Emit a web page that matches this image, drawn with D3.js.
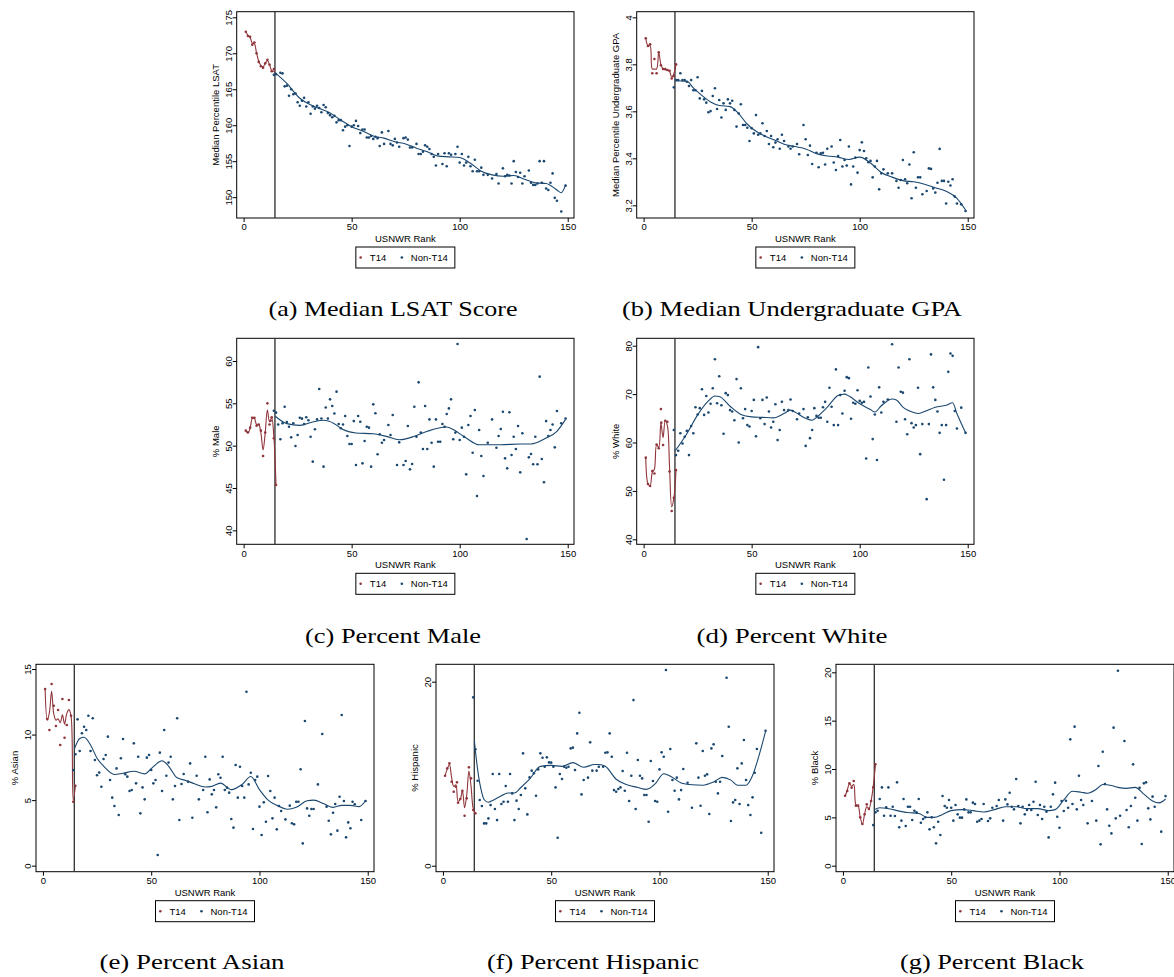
<!DOCTYPE html>
<html><head><meta charset="utf-8">
<script src="https://cdn.jsdelivr.net/npm/d3@7/dist/d3.min.js"></script>
<style>body{margin:0;background:#fff;overflow:hidden}svg{display:block}</style>
</head><body>
<svg id="chart" width="1174" height="977"></svg>
<script>
// ---------- shared ----------
const rankTicks = [0, 50, 100, 150];
const legendNames = ["T14", "Non-T14"];
const xTitle = "USNWR Rank";

// ---------- (a) LSAT ----------
const lsatTicks = [150, 155, 160, 165, 170, 175];
const lsatTickLabels = ["150", "155", "160", "165", "170", "175"];
const lsatT14 = [[1,173.0],[2,172.4],[3,172.3],[4,171.2],[5,171.5],[6,170.0],[7,168.8],[8,168.2],[9,168.0],[10,168.6],[11,169.1],[12,168.4],[13,167.5],[14,167.8]];
const lsatT14Fit = [[1,173.0],[2,172.5],[3,172.2],[4,171.4],[5,171.3],[6,170.0],[7,168.9],[8,168.3],[9,168.1],[10,168.6],[11,169.0],[12,168.4],[13,167.6],[14,167.5],[14.5,167.3]];
const lsatNon = [[14,167.0],[15,167.1],[17,167.3],[18,167.2],[19,165.4],[20,165.5],[21,164.1],[22,165.0],[23,164.3],[24,164.4],[25,163.2],[26,162.7],[27,163.4],[28,163.8],[29,162.6],[30,163.2],[31,161.6],[32,162.6],[33,162.3],[34,162.7],[35,162.4],[36,161.8],[37,162.8],[38,162.5],[39,161.7],[40,161.4],[41,161.1],[42,161.3],[43,160.4],[44,160.7],[45,160.7],[46,159.3],[47,159.8],[48,160.0],[49,157.1],[50,159.8],[51,160.0],[52,160.6],[53,159.9],[54,158.9],[55,159.4],[56,159.4],[57,158.3],[58,158.3],[59,158.5],[60,158.1],[61,158.4],[62,158.2],[63,157.1],[64,159.0],[65,157.4],[67,159.2],[68,157.4],[69,157.2],[70,158.1],[71,157.6],[72,157.0],[74,158.2],[75,158.3],[76,158.0],[77,156.9],[78,156.9],[80,157.4],[81,156.0],[82,156.0],[83,156.3],[84,157.2],[85,157.0],[86,156.7],[87,156.0],[88,155.6],[89,154.4],[90,156.0],[92,154.6],[93,156.1],[94,154.3],[95,156.1],[96,155.9],[98,156.0],[99,157.0],[100,154.8],[101,156.0],[102,154.4],[103,154.8],[104,155.6],[105,154.3],[106,153.6],[107,155.2],[108,153.6],[109,153.6],[110,154.1],[111,153.1],[113,153.1],[115,152.6],[117,153.2],[118,151.9],[120,154.0],[121,152.9],[122,153.1],[123,153.0],[124,151.9],[125,155.0],[126,153.5],[127,152.8],[128,153.4],[129,151.9],[130,152.9],[132,153.7],[133,152.0],[134,151.7],[135,151.7],[136,151.9],[137,155.0],[138,152.0],[139,155.0],[140,151.2],[141,151.0],[142,152.0],[143,153.3],[144,149.9],[145,149.5],[147,148.0],[149,151.6]];
const lsatNonFit = [[14.5,167.3],[20,165.8],[26,163.75],[32,162.7],[40,161.7],[45,160.7],[50,159.8],[55,159.2],[60,158.5],[65,158.2],[70,157.7],[75,157.4],[80,156.8],[85,156.3],[90,155.7],[95,155.6],[100,155.5],[105,154.7],[110,153.6],[115,153.1],[120,152.9],[125,153.0],[130,152.5],[135,152.0],[140,151.9],[145,151.0],[147,150.6],[149,151.7]];

// ---------- (b) GPA ----------
const gpaTicks = [3.2, 3.4, 3.6, 3.8, 4.0];
const gpaTickLabels = ["3.2", "3.4", "3.6", "3.8", "4"];
const gpaT14 = [[1,3.911],[2,3.878],[3,3.885],[4,3.762],[5,3.823],[6,3.762],[7,3.851],[8,3.796],[9,3.78],[10,3.78],[11,3.776],[12,3.773],[13,3.74],[14,3.75],[15,3.80]];
const gpaT14Fit = [[1,3.91],[2,3.88],[3,3.88],[4,3.78],[5,3.78],[6,3.78],[7,3.85],[8,3.80],[9,3.78],[10,3.777],[11,3.775],[12,3.77],[13,3.745],[14,3.76],[15,3.80]];
const gpaNon = [[14,3.702],[15,3.733],[16,3.733],[17,3.762],[18,3.733],[19,3.733],[20,3.726],[21,3.708],[22,3.733],[23,3.69],[24,3.69],[25,3.745],[26,3.655],[27,3.687],[28,3.651],[29,3.637],[30,3.596],[31,3.601],[32,3.665],[33,3.698],[34,3.61],[35,3.648],[36,3.574],[37,3.634],[38,3.606],[39,3.651],[40,3.634],[41,3.645],[42,3.606],[43,3.535],[44,3.591],[45,3.63],[46,3.542],[47,3.542],[48,3.53],[49,3.474],[50,3.528],[51,3.506],[52,3.584],[53,3.5],[54,3.506],[55,3.549],[56,3.495],[57,3.516],[58,3.461],[59,3.495],[60,3.447],[61,3.467],[62,3.481],[63,3.441],[64,3.5],[65,3.474],[67,3.45],[68,3.441],[69,3.45],[71,3.461],[72,3.417],[74,3.542],[75,3.481],[76,3.414],[77,3.454],[78,3.376],[80,3.424],[81,3.362],[82,3.421],[83,3.424],[84,3.374],[85,3.441],[87,3.45],[88,3.382],[89,3.35],[90,3.41],[91,3.478],[92,3.365],[93,3.393],[94,3.369],[95,3.45],[96,3.289],[97,3.365],[98,3.403],[99,3.339],[100,3.435],[101,3.468],[102,3.431],[103,3.4],[104,3.383],[105,3.389],[106,3.319],[107,3.365],[108,3.389],[109,3.268],[110,3.336],[111,3.353],[113,3.336],[115,3.336],[117,3.304],[118,3.275],[119,3.308],[120,3.393],[121,3.311],[122,3.294],[123,3.374],[124,3.23],[125,3.426],[126,3.275],[127,3.319],[128,3.319],[129,3.247],[131,3.261],[132,3.357],[133,3.355],[134,3.272],[135,3.254],[136,3.296],[137,3.44],[138,3.304],[139,3.304],[140,3.208],[141,3.3],[142,3.284],[143,3.311],[144,3.237],[145,3.208],[147,3.204],[149,3.176]];
const gpaNonFit = [[14.5,3.73],[20,3.728],[23,3.70],[26,3.675],[31,3.64],[35,3.625],[40,3.62],[44,3.59],[48,3.545],[52,3.515],[56,3.495],[60,3.48],[65,3.46],[70,3.45],[75,3.44],[80,3.42],[85,3.41],[90,3.405],[95,3.395],[100,3.405],[105,3.38],[110,3.34],[115,3.32],[120,3.305],[125,3.30],[130,3.29],[135,3.275],[140,3.26],[145,3.23],[149,3.18]];

// ---------- (c) Male ----------
const maleTicks = [40, 45, 50, 55, 60];
const maleTickLabels = ["40", "45", "50", "55", "60"];
const maleT14 = [[1,51.77],[2,51.57],[3,52.13],[4,53.3],[5,53.3],[6,52.36],[7,52.5],[8,51.77],[9,48.78],[10,51.54],[11,55.0],[12,52.5],[12.5,52.95],[13,53.35],[14,50.87],[15,45.35]];
const maleT14Fit = [[1,51.7],[2,51.5],[3,52.0],[4,53.2],[5,53.2],[6,52.5],[7,52.5],[8,51.5],[9,49.5],[10,51.5],[11,54.2],[12,52.8],[13,53.3],[14,51.0],[15,45.3]];
const maleNon = [[14,54.13],[15,53.9],[16,52.5],[17,50.75],[18,52.64],[19,54.6],[20,52.8],[21,52.24],[22,50.98],[23,52.64],[24,49.96],[25,51.26],[26,53.3],[27,53.19],[28,52.56],[29,53.35],[30,53.0],[31,51.06],[32,48.11],[33,51.93],[34,53.1],[35,56.7],[36,53.2],[37,47.52],[38,54.5],[39,53.2],[40,55.47],[41,54.69],[42,53.8],[43,56.38],[44,52.56],[45,52.05],[46,52.5],[47,53.5],[48,51.14],[49,50.2],[50,50.2],[51,52.9],[52,47.72],[53,53.5],[54,52.83],[55,47.91],[56,50.55],[57,52.24],[58,52.13],[59,47.52],[60,54.88],[61,53.82],[62,48.98],[63,51.34],[64,50.35],[65,50.67],[67,52.44],[68,51.26],[69,53.62],[71,47.72],[72,50.39],[74,47.72],[75,48.19],[76,52.32],[77,47.2],[78,47.83],[79,54.6],[80,51.06],[81,57.48],[82,51.54],[83,49.6],[84,54.69],[85,49.6],[86,53.1],[87,50.35],[88,47.52],[89,53.1],[90,50.47],[91,50.47],[92,52.56],[93,52.24],[94,53.74],[95,54.4],[96,55.47],[97,50.75],[98,51.54],[99,62.0],[100,50.67],[101,52.13],[102,51.06],[103,46.61],[104,52.44],[105,53.5],[106,49.17],[107,54.21],[108,44.06],[109,51.85],[110,48.78],[111,46.42],[113,50.35],[115,53.1],[117,49.76],[118,51.14],[119,51.97],[120,54.0],[121,48.5],[122,47.32],[123,53.94],[124,48.9],[125,51.06],[126,49.6],[127,52.32],[128,46.85],[129,51.46],[131,38.98],[132,48.62],[133,49.02],[134,47.8],[135,51.06],[136,47.8],[137,58.15],[138,48.43],[139,45.67],[140,52.9],[141,51.14],[142,51.85],[143,52.5],[144,49.8],[145,54.1],[147,52.64],[149,53.2]];
const maleNonFit = [[14.5,53.5],[20,52.6],[26,52.4],[32,52.8],[37,53.0],[42,52.6],[46,51.9],[52,51.5],[60,51.4],[66,51.1],[72,50.7],[79,51.1],[85,51.7],[94,52.2],[97,51.9],[103,50.9],[109,50.1],[119,50.1],[128,50.2],[133,50.2],[140,50.9],[145,51.7],[149,53.1]];

// ---------- (d) White ----------
const whiteTicks = [40, 50, 60, 70, 80];
const whiteTickLabels = ["40", "50", "60", "70", "80"];
const whiteT14 = [[1,56.87],[2,51.43],[3,51.0],[4,54.1],[5,53.6],[6,59.6],[7,58.8],[8,66.9],[8.2,64.1],[9,59.5],[10,64.5],[11,64.3],[12,54.0],[13,45.85],[14,48.6],[15,54.3]];
const whiteT14Fit = [[1,56.8],[2,51.5],[3,51.0],[4,53.8],[5,54.5],[6,59.5],[7,59.0],[8,64.0],[9,61.0],[10,64.5],[11,63.5],[12,55.0],[13,46.7],[14,48.5],[15,54.3]];
const whiteNon = [[14,62.6],[15,57.4],[16,58.3],[17,61.9],[18,59.8],[19,61.2],[20,62.4],[21,57.4],[22,63.4],[23,61.9],[24,67.3],[25,65.8],[26,67.1],[27,71.0],[28,65.7],[29,69.6],[30,66.2],[31,68.0],[32,71.2],[33,77.2],[34,68.1],[35,73.7],[36,67.7],[37,61.8],[38,70.2],[39,69.8],[40,66.7],[41,66.4],[42,64.6],[43,73.1],[44,60.0],[45,71.2],[46,65.0],[47,66.9],[48,63.6],[49,63.3],[50,66.5],[51,68.8],[52,61.3],[53,79.7],[54,65.0],[55,68.8],[56,63.8],[57,69.3],[58,66.4],[59,63.1],[60,64.3],[61,67.9],[62,60.5],[63,62.6],[64,68.4],[65,66.7],[67,66.7],[68,68.9],[69,66.5],[71,64.8],[72,66.0],[74,66.9],[75,59.3],[76,65.2],[77,60.9],[78,62.6],[79,67.1],[80,65.5],[81,65.1],[82,65.1],[83,67.3],[84,68.4],[85,64.3],[86,71.3],[87,67.4],[88,63.6],[89,75.1],[90,63.6],[91,69.8],[92,66.0],[93,70.7],[94,73.5],[95,73.3],[96,64.9],[97,68.2],[98,68.0],[99,70.8],[100,68.6],[101,68.2],[102,68.4],[103,56.7],[104,75.5],[105,69.5],[106,60.7],[107,65.8],[108,56.4],[109,71.4],[110,66.2],[111,68.4],[113,68.9],[115,80.3],[117,64.3],[118,75.5],[119,70.5],[120,70.3],[121,64.8],[122,61.7],[123,77.2],[124,64.0],[125,63.1],[126,63.6],[127,71.3],[128,57.6],[129,63.8],[131,48.3],[132,63.8],[133,78.2],[134,71.4],[135,68.8],[136,66.4],[137,62.0],[138,63.6],[139,52.3],[140,63.6],[141,74.6],[142,78.4],[143,77.9],[144,66.5],[145,62.9],[147,67.2],[149,62.0]];
const whiteNonFit = [[14.5,58.2],[20,61.8],[25,65.7],[30,68.6],[33,69.6],[35,69.5],[40,67.5],[45,65.8],[50,65.3],[55,65.2],[60,65.1],[65,66.0],[68,66.7],[70,66.3],[75,65.0],[78,64.6],[80,65.2],[85,67.3],[90,69.7],[93,70.0],[95,69.6],[100,68.0],[105,66.8],[107,66.3],[110,67.6],[115,69.0],[117,68.8],[120,67.3],[125,66.2],[127,66.0],[130,66.4],[135,67.3],[140,67.7],[143,68.2],[145,66.0],[149,62.0]];

// ---------- (e) Asian ----------
const asianTicks = [0, 5, 10, 15];
const asianTickLabels = ["0", "5", "10", "15"];
const asianT14 = [[1,13.47],[2,11.19],[3,10.35],[4,13.86],[5,12.2],[6,10.65],[7,11.87],[8,9.2],[9,12.71],[10,9.76],[11,10.73],[12,12.64],[13,11.44],[14,4.88],[15,6.1]];
const asianT14Fit = [[1,13.5],[2,11.1],[3,11.7],[4,13.3],[5,11.6],[6,11.1],[7,11.2],[8,10.9],[9,11.5],[10,10.8],[11,11.6],[12,11.9],[13,11.4],[14,5.0],[15,6.1]];
const asianNon = [[14,7.3],[15,8.5],[16,11.16],[17,8.75],[18,10.1],[19,10.6],[20,10.35],[21,11.44],[22,8.75],[23,11.24],[24,8.06],[25,6.9],[26,7.1],[27,6.02],[28,8.14],[29,8.44],[30,9.84],[31,6.53],[32,5.19],[33,4.55],[34,7.42],[35,3.86],[36,8.19],[37,9.66],[38,6.97],[39,6.79],[40,5.69],[41,5.77],[42,9.33],[43,6.28],[44,8.31],[45,3.99],[46,5.97],[47,5.06],[48,8.24],[49,8.44],[50,7.3],[51,6.28],[52,6.53],[53,0.81],[54,8.62],[55,5.69],[56,10.35],[57,6.86],[58,7.86],[59,8.31],[60,5.06],[61,6.08],[62,11.24],[63,3.48],[64,6.23],[65,6.99],[67,6.41],[68,7.8],[69,3.66],[71,6.86],[72,5.06],[74,5.77],[75,8.31],[76,4.07],[77,6.58],[78,5.44],[79,5.77],[80,4.45],[81,6.97],[82,6.71],[83,8.31],[84,5.77],[85,5.95],[86,5.57],[87,3.56],[88,2.9],[89,7.68],[90,5.19],[91,7.55],[92,6.08],[93,5.19],[94,13.27],[95,6.2],[96,7.09],[97,2.8],[98,6.53],[99,6.79],[100,4.5],[101,2.34],[102,4.83],[103,3.35],[104,6.84],[105,5.69],[106,3.61],[107,5.19],[108,2.77],[109,4.55],[110,4.17],[112,3.53],[114,4.58],[115,3.23],[116,3.15],[117,4.88],[118,4.88],[119,7.35],[120,1.7],[121,11.03],[122,4.37],[123,3.81],[124,4.32],[125,4.32],[127,6.2],[129,10.04],[131,4.5],[132,3.43],[133,2.39],[134,4.04],[135,4.7],[136,2.67],[137,5.26],[138,11.49],[139,4.93],[140,2.16],[141,3.3],[142,2.85],[143,4.88],[144,4.68],[147,3.48],[149,4.93]];
const asianNonFit = [[14.5,8.9],[17,9.7],[19,9.8],[22,9.2],[25,8.2],[28,7.6],[33,6.95],[37,7.05],[42,7.2],[47,7.0],[50,7.4],[55,8.0],[58,7.6],[62,6.7],[66,6.5],[70,6.25],[75,6.0],[78,6.05],[82,6.3],[87,5.8],[92,6.2],[96,6.8],[100,5.8],[104,5.0],[108,4.6],[113,4.3],[117,4.45],[122,4.95],[125,5.0],[130,4.7],[134,4.45],[138,4.6],[142,4.6],[146,4.5],[149,4.95]];

// ---------- (f) Hispanic ----------
const hispTicks = [0, 20];
const hispTickLabels = ["0", "20"];
const hispT14 = [[1,9.78],[2,10.58],[3,11.12],[4,9.13],[5,8.04],[6,8.59],[6.5,9.06],[7,6.85],[8,7.25],[9,8.15],[10,5.43],[11,7.32],[12,10.69],[13,9.49],[14,6.05],[15,5.69]];
const hispT14Fit = [[1,9.8],[2,10.5],[3,11.0],[4,9.6],[5,8.6],[6,8.8],[7,7.0],[8,7.2],[9,8.2],[10,6.3],[11,7.7],[12,10.3],[13,8.6],[14,6.2],[15,5.7]];
const hispNon = [[14,18.3],[15,12.65],[16,9.24],[17,7.14],[18,6.49],[19,4.6],[20,4.6],[21,5.14],[22,6.59],[23,9.96],[24,6.16],[25,4.96],[26,9.96],[27,6.7],[28,6.96],[29,8.66],[30,6.96],[31,9.96],[32,7.86],[33,4.96],[34,7.07],[35,6.16],[36,7.68],[37,12.21],[38,8.41],[39,5.58],[40,9.6],[41,10.33],[42,10.04],[43,7.61],[44,10.47],[45,12.21],[46,11.74],[47,10.76],[48,11.78],[49,11.23],[50,11.2],[51,10.76],[52,8.51],[53,3.04],[54,9.96],[55,9.42],[56,10.76],[57,10.65],[58,10.76],[59,12.75],[60,12.83],[61,10.4],[62,14.38],[63,16.63],[64,7.75],[65,9.31],[67,9.57],[68,13.41],[69,10.33],[71,10.33],[72,10.76],[74,10.76],[75,12.28],[76,12.32],[77,14.38],[78,11.85],[79,8.22],[80,8.04],[81,8.33],[82,8.51],[83,10.29],[84,8.15],[85,12.28],[86,7.03],[87,9.78],[88,18.0],[89,6.16],[90,11.49],[91,9.78],[92,9.49],[93,7.68],[94,7.68],[95,4.78],[96,11.38],[97,9.2],[98,7.03],[99,6.96],[100,10.47],[101,12.32],[102,11.85],[103,21.27],[104,5.87],[105,12.68],[106,9.31],[107,8.15],[108,9.57],[109,7.21],[110,8.22],[111,10.51],[113,9.02],[115,6.3],[117,13.3],[118,9.57],[119,6.52],[120,12.46],[121,9.78],[122,9.93],[123,5.62],[124,12.75],[125,13.19],[126,9.13],[127,7.86],[128,9.13],[129,11.92],[131,20.43],[132,15.11],[133,4.86],[134,6.88],[135,7.14],[136,10.58],[137,6.7],[138,11.12],[139,13.66],[140,9.31],[141,6.59],[142,5.51],[143,7.43],[144,10.11],[145,12.68],[147,3.59],[149,14.67]];
const hispNonFit = [[14.5,13.6],[16,10.5],[18,7.9],[19,7.2],[21,6.9],[23,7.1],[27,7.6],[30,7.9],[33,7.9],[36,8.5],[40,9.4],[45,10.8],[50,10.9],[55,10.8],[60,11.2],[65,10.7],[70,11.0],[72,11.0],[75,10.8],[80,9.4],[85,8.8],[90,8.5],[94,8.3],[98,8.9],[102,10.0],[106,9.6],[110,9.0],[115,8.8],[120,8.75],[125,9.1],[129,9.6],[133,9.3],[136,8.75],[140,8.75],[143,9.8],[146,12.0],[149,14.6]];

// ---------- (g) Black ----------
const blackTicks = [0, 5, 10, 15, 20];
const blackTickLabels = ["0", "5", "10", "15", "20"];
const blackT14 = [[1,7.24],[2,7.72],[3,8.52],[4,8.07],[5,8.76],[6,6.21],[7,6.21],[8,5.0],[9,4.31],[10,5.31],[11,6.34],[12,5.86],[13,6.69],[14,8.1],[15,10.48]];
const blackT14Fit = [[1,7.2],[2,7.8],[3,8.5],[4,8.2],[5,8.4],[6,6.3],[7,6.2],[8,5.0],[9,4.3],[10,5.3],[11,6.1],[12,5.9],[13,6.7],[14,8.2],[15,10.4]];
const blackNon = [[14,4.2],[15,5.52],[16,5.69],[17,6.9],[18,8.1],[19,5.17],[20,6.03],[21,8.1],[22,5.17],[23,6.1],[24,5.14],[25,8.62],[26,3.97],[27,4.66],[28,6.9],[29,4.1],[30,6.1],[31,6.1],[32,4.72],[33,5.69],[34,5.52],[35,6.9],[36,4.45],[37,4.83],[38,5.0],[39,5.52],[40,3.76],[41,5.0],[42,3.97],[43,2.31],[44,4.55],[45,3.17],[46,7.21],[47,6.17],[48,6.0],[49,6.79],[50,6.0],[51,4.66],[52,6.28],[53,5.31],[54,4.97],[55,4.97],[56,5.83],[57,6.86],[58,5.52],[59,5.52],[60,6.52],[61,6.38],[62,4.55],[63,4.66],[64,4.83],[65,6.38],[67,4.62],[68,4.9],[69,6.0],[71,6.17],[72,6.79],[74,4.66],[75,6.86],[76,6.34],[77,7.55],[78,6.1],[79,5.83],[80,8.97],[81,6.17],[82,4.38],[83,6.1],[84,5.31],[85,5.76],[86,6.28],[87,5.76],[88,6.62],[89,8.69],[90,5.24],[91,6.28],[92,4.83],[93,6.1],[94,5.59],[95,2.93],[96,6.1],[97,7.38],[98,8.59],[99,5.07],[100,3.93],[101,6.69],[102,5.66],[103,6.72],[104,6.0],[105,13.07],[106,6.38],[107,14.38],[108,5.83],[109,9.31],[110,6.79],[111,6.28],[113,4.38],[115,6.69],[117,4.66],[118,10.31],[119,2.21],[120,11.79],[121,8.45],[122,5.83],[123,4.14],[124,3.34],[125,14.28],[126,4.9],[127,20.17],[128,5.17],[130,12.9],[131,5.76],[132,3.97],[133,6.17],[134,10.48],[135,7.03],[136,4.66],[137,8.07],[138,2.24],[139,8.52],[140,8.62],[141,5.93],[142,4.79],[143,7.14],[144,6.1],[147,3.52],[149,7.2]];
const blackNonFit = [[14.5,5.8],[17,6.0],[20,5.95],[25,5.7],[30,5.5],[35,5.4],[39,5.0],[42,5.0],[46,5.3],[50,5.7],[55,5.8],[60,5.7],[65,5.55],[70,5.8],[75,6.1],[80,6.1],[85,5.9],[90,5.9],[95,5.7],[98,5.8],[102,6.8],[106,7.7],[110,7.6],[113,7.5],[117,7.9],[120,8.4],[124,8.3],[127,8.1],[131,8.0],[135,8.1],[139,7.4],[143,6.7],[146,6.5],[149,6.9]];

// ---------- drawing ----------
const RED = "#90353b", NAVY = "#1a476f";
const SANS = "'Liberation Sans', Arial, sans-serif";
const SERIF = "'Liberation Serif', 'Times New Roman', serif";
const xDomain = [-3.2, 152.9];
const cutoff = 14.5;

const panels = [
  {x0:236.7, x1:574, y0:11.7, y1:218, yDom:[147.1,175.78], ticks:lsatTicks, labels:lsatTickLabels, yTitle:"Median Percentile LSAT",
   t14:lsatT14, t14Fit:lsatT14Fit, non:lsatNon, nonFit:lsatNonFit, caption:"(a) Median LSAT Score", capX:393, capY:316, capW:249},
  {x0:636.7, x1:974, y0:11.7, y1:218, yDom:[3.146,4.024], ticks:gpaTicks, labels:gpaTickLabels, yTitle:"Median Percentile Undergraduate GPA",
   t14:gpaT14, t14Fit:gpaT14Fit, non:gpaNon, nonFit:gpaNonFit, caption:"(b) Median Undergraduate GPA", capX:792, capY:316, capW:340},
  {x0:236.7, x1:574, y0:338.3, y1:544.3, yDom:[38.35,62.68], ticks:maleTicks, labels:maleTickLabels, yTitle:"% Male",
   t14:maleT14, t14Fit:maleT14Fit, non:maleNon, nonFit:maleNonFit, caption:"(c) Percent Male", capX:393, capY:643, capW:176},
  {x0:636.7, x1:974, y0:338.3, y1:544.3, yDom:[38.97,81.53], ticks:whiteTicks, labels:whiteTickLabels, yTitle:"% White",
   t14:whiteT14, t14Fit:whiteT14Fit, non:whiteNon, nonFit:whiteNonFit, caption:"(d) Percent White", capX:792, capY:643, capW:191},
  {x0:36, x1:374, y0:664.3, y1:871.7, yDom:[-0.46,15.36], ticks:asianTicks, labels:asianTickLabels, yTitle:"% Asian",
   t14:asianT14, t14Fit:asianT14Fit, non:asianNon, nonFit:asianNonFit, caption:"(e) Percent Asian", capX:192, capY:969, capW:185},
  {x0:436, x1:774, y0:664.3, y1:871.7, yDom:[-0.65,21.89], ticks:hispTicks, labels:hispTickLabels, yTitle:"% Hispanic",
   t14:hispT14, t14Fit:hispT14Fit, non:hispNon, nonFit:hispNonFit, caption:"(f) Percent Hispanic", capX:593, capY:969, capW:212},
  {x0:836, x1:1174, y0:664.3, y1:871.7, yDom:[-0.62,20.83], ticks:blackTicks, labels:blackTickLabels, yTitle:"% Black",
   t14:blackT14, t14Fit:blackT14Fit, non:blackNon, nonFit:blackNonFit, caption:"(g) Percent Black", capX:992, capY:969, capW:184}
];

const svg = d3.select("#chart");
svg.append("rect").attr("width",1174).attr("height",977).attr("fill","#fff");

panels.forEach(p => {
  const g = svg.append("g");
  const x = d3.scaleLinear().domain(xDomain).range([p.x0, p.x1]);
  const y = d3.scaleLinear().domain(p.yDom).range([p.y1, p.y0]);

  // frame
  g.append("rect").attr("x", p.x0).attr("y", p.y0)
    .attr("width", p.x1 - p.x0).attr("height", p.y1 - p.y0)
    .attr("fill", "#fff").attr("stroke", "#000").attr("stroke-width", 1);

  // x axis
  const xa = g.append("g").attr("transform", `translate(0,${p.y1})`)
    .call(d3.axisBottom(x).tickValues(rankTicks).tickSize(4).tickPadding(1.5));
  xa.select(".domain").remove();
  xa.selectAll("line").attr("stroke", "#000");
  xa.selectAll("text").attr("font-family", SANS).attr("font-size", 9.5).attr("fill", "#000");

  // y axis (rotated labels)
  const ya = g.append("g").attr("transform", `translate(${p.x0},0)`)
    .call(d3.axisLeft(y).tickValues(p.ticks).tickSize(4).tickFormat((d, i) => p.labels[i]));
  ya.select(".domain").remove();
  ya.selectAll("line").attr("stroke", "#000");
  ya.selectAll("text")
    .attr("x", null).attr("dy", null)
    .attr("font-family", SANS).attr("font-size", 9.5).attr("fill", "#000")
    .attr("text-anchor", "middle").attr("dominant-baseline", "central")
    .attr("transform", "translate(-8.7,0) rotate(-90)");

  // axis titles
  g.append("text").attr("x", (p.x0 + p.x1) / 2).attr("y", p.y1 + 20.5)
    .attr("text-anchor", "middle").attr("dominant-baseline", "central")
    .attr("font-family", SANS).attr("font-size", 9.5).text(xTitle);
  const ty = (p.y0 + p.y1) / 2, tx = p.x0 - 21.5;
  g.append("text").attr("transform", `translate(${tx},${ty}) rotate(-90)`)
    .attr("text-anchor", "middle").attr("dominant-baseline", "central")
    .attr("font-family", SANS).attr("font-size", 9.5).text(p.yTitle);

  // cutoff line
  g.append("line").attr("x1", x(cutoff)).attr("x2", x(cutoff))
    .attr("y1", p.y0).attr("y2", p.y1)
    .attr("stroke", "#3a3a3a").attr("stroke-width", 1.4);

  // fit lines
  const lineRed = d3.line().x(d => x(d[0])).y(d => y(d[1])).curve(d3.curveCatmullRom.alpha(0.5));
  const lineBlue = d3.line().x(d => x(d[0])).y(d => y(d[1])).curve(d3.curveMonotoneX);
  g.append("path").attr("d", lineRed(p.t14Fit)).attr("fill", "none").attr("stroke", RED).attr("stroke-width", 1.1);
  g.append("path").attr("d", lineBlue(p.nonFit)).attr("fill", "none").attr("stroke", NAVY).attr("stroke-width", 1.1);

  // points
  g.append("g").selectAll("circle").data(p.t14).join("circle")
    .attr("cx", d => x(d[0])).attr("cy", d => y(d[1])).attr("r", 1.3).attr("fill", RED);
  g.append("g").selectAll("circle").data(p.non).join("circle")
    .attr("cx", d => x(d[0])).attr("cy", d => y(d[1])).attr("r", 1.3).attr("fill", NAVY);

  // legend
  const cx = (p.x0 + p.x1) / 2, lx = cx - 49.5, ly = p.y1 + 29;
  const lg = g.append("g");
  lg.append("rect").attr("x", lx).attr("y", ly).attr("width", 99).attr("height", 21)
    .attr("fill", "#fff").attr("stroke", "#000").attr("stroke-width", 1);
  lg.append("circle").attr("cx", lx + 4.8).attr("cy", ly + 10.5).attr("r", 1.3).attr("fill", RED);
  lg.append("text").attr("x", lx + 14).attr("y", ly + 10.5).attr("dominant-baseline", "central")
    .attr("font-family", SANS).attr("font-size", 9.5).text(legendNames[0]);
  lg.append("circle").attr("cx", lx + 46).attr("cy", ly + 10.5).attr("r", 1.3).attr("fill", NAVY);
  lg.append("text").attr("x", lx + 55).attr("y", ly + 10.5).attr("dominant-baseline", "central")
    .attr("font-family", SANS).attr("font-size", 9.5).text(legendNames[1]);

  // caption
  svg.append("text").attr("x", p.capX).attr("y", p.capY).attr("text-anchor", "middle")
    .attr("font-family", SERIF).attr("font-size", 22)
    .attr("textLength", p.capW).attr("lengthAdjust", "spacingAndGlyphs")
    .text(p.caption);
});
</script>
</body></html>
